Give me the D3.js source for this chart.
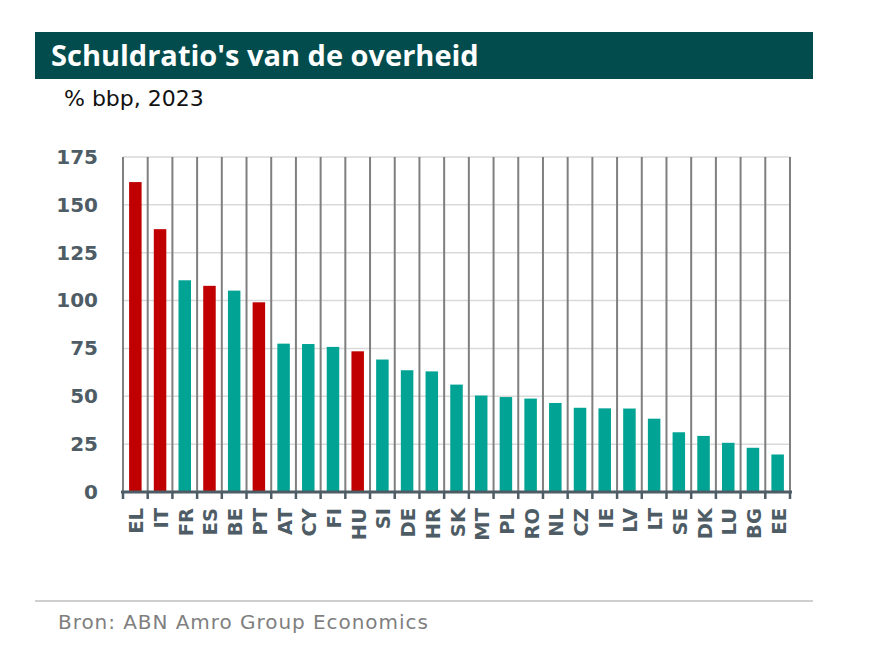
<!DOCTYPE html>
<html><head><meta charset="utf-8">
<script src="https://cdn.jsdelivr.net/npm/d3@7"></script>
<style>
body{margin:0;background:#fff;}
svg{display:block;font-family:"DejaVu Sans",sans-serif;}
</style></head><body>
<svg id="c" width="876" height="659"></svg>
<script>
const categories = ["EL","IT","FR","ES","BE","PT","AT","CY","FI","HU","SI","DE","HR","SK","MT","PL","RO","NL","CZ","IE","LV","LT","SE","DK","LU","BG","EE"];
const values = [161.9,137.3,110.6,107.7,105.2,99.1,77.5,77.3,75.8,73.5,69.2,63.6,63.0,56.1,50.4,49.6,48.8,46.5,44.0,43.7,43.6,38.3,31.2,29.3,25.7,23.1,19.6];
const highlighted = ["EL","IT","ES","PT","HU"];
const yTicks = [0,25,50,75,100,125,150,175];

const svg = d3.select("#c");
// title banner
svg.append("rect").attr("x",35).attr("y",32).attr("width",778).attr("height",47).attr("fill","#024c4d");
svg.append("text").attr("x",51).attr("y",65.5).attr("fill","#fff").attr("font-size",29).attr("font-weight",700)
  .attr("font-family","'Open Sans',sans-serif")
  .text("Schuldratio's van de overheid");
svg.append("text").attr("x",64).attr("y",105.5).attr("fill","#111").attr("font-size",22)
  .text("% bbp, 2023");

const x = d3.scaleBand().domain(categories).range([123,790]).paddingInner(0).paddingOuter(0);
const y = d3.scaleLinear().domain([0,175]).range([492,157]);

// horizontal gridlines
svg.append("g").selectAll("line").data(yTicks.filter(d=>d>0)).join("line")
  .attr("x1",123).attr("x2",790).attr("y1",d=>y(d)).attr("y2",d=>y(d))
  .attr("stroke","#d9d9d9").attr("stroke-width",1.5);
// vertical category separators
const bounds = categories.map(c=>x(c)).concat([x.range()[1]]);
svg.append("g").selectAll("line").data(bounds).join("line")
  .attr("x1",d=>d).attr("x2",d=>d).attr("y1",y(175)).attr("y2",y(0))
  .attr("stroke","#7f7f7f").attr("stroke-width",2);

// bars
const bw = 12.5;
svg.append("g").selectAll("rect").data(categories).join("rect")
  .attr("x",(c)=>x(c)+x.bandwidth()/2-bw/2)
  .attr("width",bw)
  .attr("y",(c,i)=>y(values[i]))
  .attr("height",(c,i)=>y(0)-y(values[i]))
  .attr("fill",c=>highlighted.includes(c)?"#c00000":"#00a394");

// x axis
const xa = svg.append("g").attr("transform",`translate(0,${y(0)})`);
xa.append("line").attr("x1",121).attr("x2",792).attr("y1",0).attr("y2",0).attr("stroke","#4e5d65").attr("stroke-width",3);
xa.selectAll("line.t").data(bounds).join("line").attr("class","t")
  .attr("x1",d=>d).attr("x2",d=>d).attr("y1",0).attr("y2",7).attr("stroke","#4e5d65").attr("stroke-width",2.5);
xa.selectAll("text").data(categories).join("text")
  .attr("transform",c=>`translate(${x(c)+x.bandwidth()/2+8},16) rotate(-90)`)
  .attr("text-anchor","end").attr("font-size",19.5).attr("font-weight",700).attr("fill","#4e5d65")
  .text(c=>c);

// y axis labels
const yAxis = d3.axisLeft(y).tickValues(yTicks).tickSize(0).tickPadding(0);
const ya = svg.append("g").attr("transform","translate(98,0)").call(yAxis);
ya.select(".domain").remove();
ya.selectAll("text").attr("font-size",20).attr("font-weight",700).attr("fill","#4e5d65")
  .attr("font-family","'DejaVu Sans',sans-serif");

// source
svg.append("line").attr("x1",35).attr("x2",813).attr("y1",601).attr("y2",601).attr("stroke","#bfbfbf").attr("stroke-width",1.5);
svg.append("text").attr("x",58).attr("y",628.5).attr("fill","#7f7f7f").attr("font-size",20).attr("letter-spacing",0.95)
  .text("Bron: ABN Amro Group Economics");
</script>
</body></html>
